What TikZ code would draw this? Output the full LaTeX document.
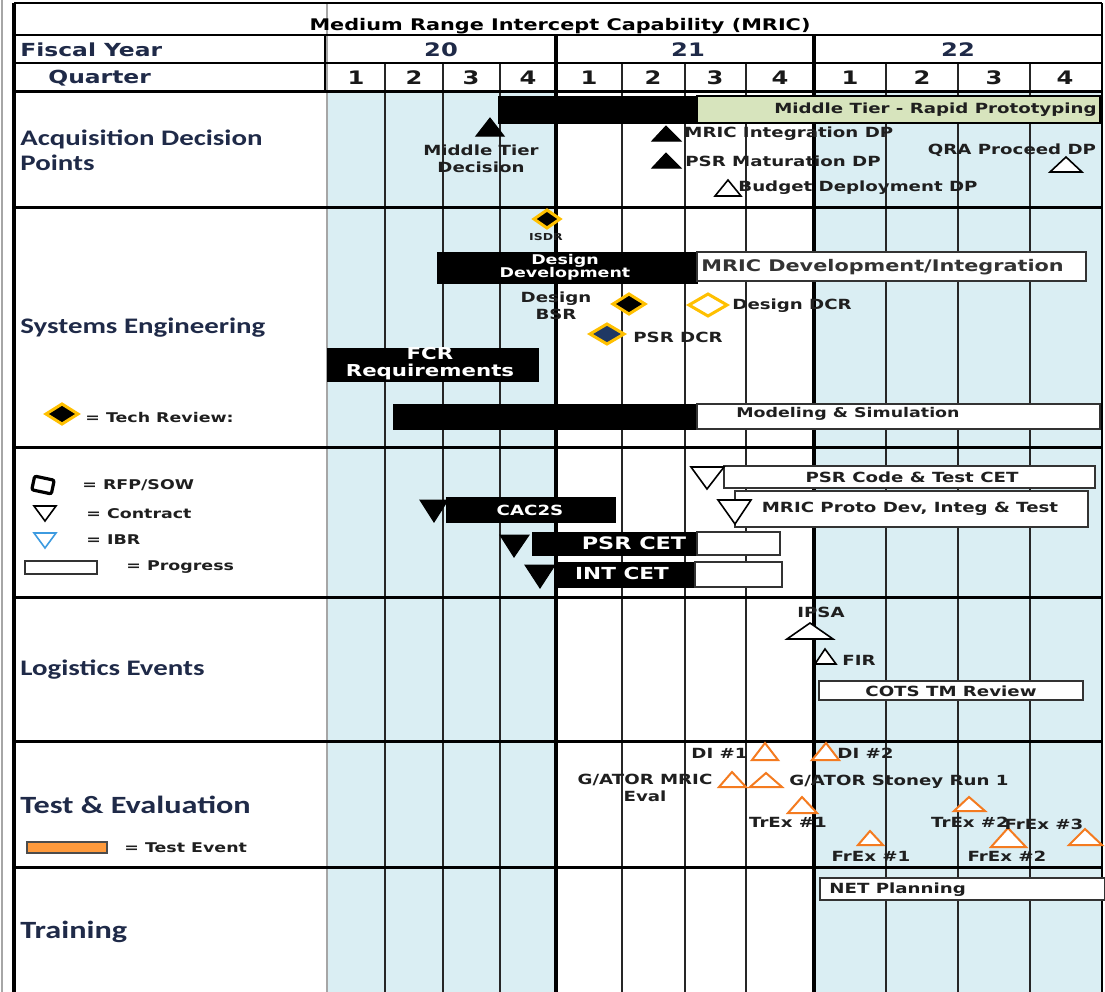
\documentclass[tikz,border=0pt]{standalone}
\usepackage{fontspec}
\setmainfont{DejaVu Sans}[FakeStretch=1.3]
\newfontfamily\lblfont{Carlito}[FakeStretch=1.3]
\usetikzlibrary{calc}

\definecolor{skyblue}{HTML}{DAEEF3}
\definecolor{sagegreen}{HTML}{D7E4BD}
\definecolor{tekgold}{HTML}{FFC000}
\definecolor{navyfill}{HTML}{1F3864}
\definecolor{labelnavy}{HTML}{1F2A48}
\definecolor{testorange}{HTML}{F47B20}
\definecolor{legendorange}{HTML}{FF9A3C}
\definecolor{ibrblue}{HTML}{3D9BE0}

\tikzset{
  rowlbl/.style={anchor=west, inner sep=0pt, text=labelnavy, align=left,
    font=\lblfont\fontsize{11.1}{12.5}\selectfont\bfseries},
  biglbl/.style={rowlbl, font=\lblfont\fontsize{12.4}{13}\selectfont\bfseries},
  hdr/.style={inner sep=0pt, text=labelnavy, font=\fontsize{9.3}{10}\selectfont\bfseries},
  evtxt/.style={inner sep=0pt, text=black!88, font=\fontsize{7}{8.5}\selectfont\bfseries},
  smalltxt/.style={evtxt, font=\fontsize{6.7}{7}\selectfont\bfseries},
  bartxt/.style={inner sep=0pt, text=white, font=\fontsize{7}{7}\selectfont\bfseries},
  blackbar/.style={fill=black, draw=black, line width=0.5pt},
  whitebar/.style={fill=white, draw=black!80, line width=0.6pt},
  qline/.style={line width=1.1pt, black!85},
  fyline/.style={line width=1.6pt},
  rowline/.style={line width=1.5pt},
  tribk/.style={fill=black, draw=black, line width=0.5pt},
  triwh/.style={fill=white, draw=black, line width=0.8pt},
  trior/.style={fill=white, draw=testorange, line width=1pt},
  techdiam/.style={draw=tekgold, line width=1.5pt},
}

\begin{document}
\begin{tikzpicture}[x=0.5pt, y=-0.5pt]
\useasboundingbox (0,0) rectangle (1105,992);
\fill[white] (0,0) rectangle (1105,992);

% shading of FY20 and FY22
\fill[skyblue] (327,91) rectangle (556,992);
\fill[skyblue] (814,91) rectangle (1102,992);

% grid
\foreach \qx in {385,443,500,622,685,746,886,958,1030}
  \draw[qline] (\qx,63) -- (\qx,992);
\foreach \fx in {556,814}
  \draw[fyline] (\fx,35) -- (\fx,992);
\draw[line width=0.8pt, black!35] (2,0) -- (2,992);
\draw[line width=0.8pt, black!35] (327,3) -- (327,992);
\draw[line width=0.8pt] (325,35) -- (325,91);
\draw[line width=1pt] (14,35) -- (1102,35);
\draw[line width=1pt] (14,63) -- (1102,63);
\foreach \ry in {91,207,447,597,741,867}
  \draw[rowline] (14,\ry) -- (1102,\ry);
\draw[line width=1pt] (1102,3) -- (1102,992);
\draw[line width=1.2pt] (14,3) -- (1102,3);
\draw[line width=2pt] (14,3) -- (14,992);

% header
\node[inner sep=0pt, font=\fontsize{8}{8}\selectfont\bfseries] (title) at (560,26) {Medium Range Intercept Capability (MRIC)};
\node[anchor=west, inner sep=0pt, text=labelnavy, font=\fontsize{9}{10}\selectfont\bfseries] (fyear) at (20,50) {Fiscal Year};
\node[anchor=west, inner sep=0pt, text=labelnavy, font=\fontsize{9}{10}\selectfont\bfseries] (quarter) at (48,78) {Quarter};
\node[hdr] (fy20) at (441,50) {20};
\node[hdr] (fy21) at (688,50) {21};
\node[hdr] (fy22) at (958,50) {22};
\foreach \qx/\qn [count=\i] in {356/1,414/2,471/3,528/4,589/1,653/2,715/3,780/4,850/1,922/2,994/3,1065/4}
  \node[hdr, text=black!90] (q\i) at (\qx,78) {\qn};

% row labels
\node[rowlbl] (acq) at (20,150) {Acquisition Decision\\Points};
\node[rowlbl] (syseng) at (20,328) {Systems Engineering};
\node[rowlbl] (logev) at (20,670) {Logistics Events};
\node[biglbl] (testev) at (20,805) {Test \& Evaluation};
\node[biglbl] (train) at (20,932) {Training};

% acquisition decision points
\draw[blackbar] (498,96) rectangle (697,123);
\draw[fill=sagegreen, draw=black, line width=0.6pt] (697,96) rectangle (1100,123);
\node[evtxt, anchor=east] (mtrp) at (1097,110) {Middle Tier - Rapid Prototyping};
\draw[tribk] (476,136) -- (490,118) -- (504,136) -- cycle;
\node[evtxt, align=center] (mtdec) at (481,159) {Middle Tier\\Decision};
\draw[tribk] (652,141) -- (666,126) -- (681,141) -- cycle;
\node[evtxt, anchor=west] (mricdp) at (684,134) {MRIC Integration DP};
\draw[tribk] (652,168) -- (666,153) -- (681,168) -- cycle;
\node[evtxt, anchor=west] (psrdp) at (685,161) {PSR Maturation DP};
\draw[triwh] (715,196) -- (728,180) -- (741,196) -- cycle;
\node[evtxt, anchor=west] (budgdp) at (738,188) {Budget Deployment DP};
\node[evtxt] (qradp) at (1012,150) {QRA Proceed DP};
\draw[triwh] (1050,172) -- (1066,157) -- (1082,172) -- cycle;

% systems engineering
\draw[techdiam, fill=black] (534,219) -- (547,210) -- (560,219) -- (547,228) -- cycle;
\node[evtxt, font=\fontsize{4.8}{5}\selectfont\bfseries] (isdr) at (546,237) {ISDR};
\draw[blackbar] (437,252) rectangle (697,283);
\node[bartxt, align=center, font=\fontsize{6.7}{6.6}\selectfont\bfseries] (desdev) at (565,267) {Design\\Development};
\draw[whitebar] (697,252) rectangle (1086,281);
\node[evtxt, anchor=west, text=black!80, font=\fontsize{8}{8}\selectfont\bfseries] (mricdev) at (701,267) {MRIC Development/Integration};
\node[evtxt, align=center] (desbsr) at (556,306) {Design\\BSR};
\draw[techdiam, fill=black] (613,304) -- (629,294) -- (645,304) -- (629,314) -- cycle;
\draw[techdiam, fill=white] (689,305) -- (708,294) -- (727,305) -- (708,316) -- cycle;
\node[evtxt, anchor=west] (desdcr) at (732,306) {Design DCR};
\draw[techdiam, fill=navyfill] (590,334) -- (607,324) -- (624,334) -- (607,344) -- cycle;
\node[evtxt, anchor=west] (psrdcr) at (633,337) {PSR DCR};
\draw[blackbar] (327,348) rectangle (538,381);
\node[bartxt, align=center, font=\fontsize{8.2}{8.5}\selectfont\bfseries] (fcrreq) at (430,364) {FCR\\Requirements};
\draw[techdiam, fill=black] (46,414) -- (62,404) -- (78,414) -- (62,424) -- cycle;
\node[smalltxt, anchor=west] (techrev) at (85,417) {= Tech Review:};
\draw[blackbar] (393,404) rectangle (697,429);
\draw[whitebar] (697,404) rectangle (1100,429);
\node[smalltxt] (modsim) at (848,414) {Modeling \& Simulation};

% contracts
\draw[line width=1.6pt, rounded corners=1pt, rotate around={-12:(43,485)}] (33,478) rectangle (53,492);
\node[smalltxt, anchor=west] (rfpsow) at (82,485) {= RFP/SOW};
\draw[triwh] (34,506) -- (56,506) -- (45,521) -- cycle;
\node[smalltxt, anchor=west] (contr) at (86,514) {= Contract};
\draw[triwh, draw=ibrblue] (34,533) -- (56,533) -- (45,548) -- cycle;
\node[smalltxt, anchor=west] (ibr) at (86,540) {= IBR};
\draw[whitebar] (25,561) rectangle (97,574);
\node[smalltxt, anchor=west] (progr) at (126,567) {= Progress};
\draw[blackbar] (446,497) rectangle (615,522);
\draw[tribk] (420,500) -- (448,500) -- (434,522) -- cycle;
\node[bartxt] (cac2s) at (530,510) {CAC2S};
\draw[blackbar] (532,532) rectangle (697,555);
\draw[whitebar] (697,532) rectangle (780,555);
\draw[tribk] (500,535) -- (529,535) -- (514,557) -- cycle;
\node[bartxt, font=\fontsize{8.6}{9}\selectfont\bfseries] (psrcet) at (634,543) {PSR CET};
\draw[blackbar] (555,562) rectangle (695,587);
\draw[whitebar] (695,562) rectangle (782,587);
\draw[tribk] (525,565) -- (555,565) -- (540,588) -- cycle;
\node[bartxt, font=\fontsize{8.3}{9}\selectfont\bfseries] (intcet) at (622,573) {INT CET};
\draw[whitebar] (724,466) rectangle (1095,488);
\draw[triwh] (691,467) -- (724,467) -- (707,489) -- cycle;
\node[evtxt] (psrcode) at (912,477) {PSR Code \& Test CET};
\draw[whitebar] (735,491) rectangle (1088,527);
\draw[triwh] (718,500) -- (751,500) -- (735,524) -- cycle;
\node[evtxt] (mricproto) at (910,509) {MRIC Proto Dev, Integ \& Test};

% logistics
\node[evtxt] (ipsa) at (821,612) {IPSA};
\draw[triwh] (787,639) -- (810,623) -- (833,639) -- cycle;
\draw[triwh] (815,664) -- (825,649) -- (836,664) -- cycle;
\node[evtxt, anchor=west] (fir) at (842,660) {FIR};
\draw[whitebar] (819,681) rectangle (1083,700);
\node[evtxt] (cots) at (951,691) {COTS TM Review};

% test and evaluation
\draw[fill=legendorange, draw=black!70, line width=0.6pt] (27,842) rectangle (107,853);
\node[smalltxt, anchor=west] (testevt) at (124,848) {= Test Event};
\draw[trior] (752,760) -- (765,743) -- (778,760) -- cycle;
\node[evtxt, anchor=east] (di1) at (748,753) {DI \#1};
\draw[trior] (812,760) -- (826,743) -- (839,760) -- cycle;
\node[evtxt, anchor=west] (di2) at (837,753) {DI \#2};
\draw[trior] (719,787) -- (732,772) -- (746,787) -- cycle;
\draw[trior] (750,787) -- (766,773) -- (782,787) -- cycle;
\node[evtxt, align=center] (gmric) at (645,788) {G/ATOR MRIC\\Eval};
\node[evtxt, anchor=west] (gstoney) at (789,782) {G/ATOR Stoney Run 1};
\draw[trior] (788,813) -- (802,797) -- (817,813) -- cycle;
\node[evtxt] (trex1) at (788,822) {TrEx \#1};
\draw[trior] (858,845) -- (870,831) -- (883,845) -- cycle;
\node[evtxt] (frex1) at (871,856) {FrEx \#1};
\draw[trior] (954,811) -- (969,797) -- (985,811) -- cycle;
\node[evtxt] (trex2) at (970,822) {TrEx \#2};
\draw[trior] (991,847) -- (1008,828) -- (1026,847) -- cycle;
\node[evtxt] (frex2) at (1007,856) {FrEx \#2};
\node[evtxt] (frex3) at (1044,824) {FrEx \#3};
\draw[trior] (1069,845) -- (1085,829) -- (1102,845) -- cycle;

% training
\draw[whitebar] (820,878) rectangle (1105,900);
\node[evtxt, anchor=west] (netplan) at (829,890) {NET Planning};
\end{tikzpicture}
\end{document}
